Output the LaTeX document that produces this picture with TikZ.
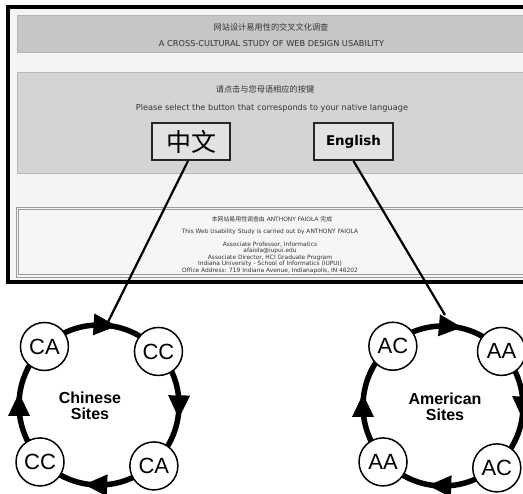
\documentclass[tikz,border=0pt]{standalone}
\usepackage{fontspec}
\setmainfont{DejaVu Sans}
\newfontfamily\cjk{Noto Sans CJK SC}
\newfontfamily\arialf{Liberation Sans}
\usetikzlibrary{calc}
\definecolor{framebg}{HTML}{F4F4F4}
\definecolor{hdrgray}{HTML}{C6C6C6}
\definecolor{hdrline}{HTML}{B4B4B4}
\definecolor{panelgray}{HTML}{D4D4D4}
\definecolor{panelline}{HTML}{B8B8B8}
\definecolor{btnfill}{HTML}{E2E2E2}
\definecolor{txtgray}{HTML}{333333}
\definecolor{footbg}{HTML}{F6F6F6}
\definecolor{footline}{HTML}{9A9A9A}
\tikzset{
  webtext/.style={text=txtgray, inner sep=0pt, font=\fontsize{8.2}{9}\selectfont},
  cjktext/.style={text=txtgray, inner sep=0pt, font=\cjk\fontsize{8.2}{9}\selectfont},
  foottext/.style={text=txtgray, inner sep=0pt, align=center, font=\fontsize{5.9}{5}\selectfont},
  btn/.style={draw=black!85, line width=2pt, fill=btnfill, minimum width=78pt, minimum height=37pt, inner sep=0pt},
  conn/.style={line width=2.2pt, black},
  ringline/.style={line width=5.5pt, black},
  site/.style={circle, draw=black, line width=1.5pt, fill=white, minimum size=48pt, inner sep=0pt, font=\arialf\fontsize{22}{22}\selectfont},
  ringlabel/.style={align=center, inner sep=0pt, font=\arialf\bfseries\fontsize{16}{16.5}\selectfont}
}
\newcommand{\ringtri}[1]{\fill[black, rotate=#1] (80,-12) -- (69,11) -- (91,11) -- cycle;}
\begin{document}
\begin{tikzpicture}[x=1pt,y=1pt]
\useasboundingbox (0,0) rectangle (523,494);
\clip (0,0) rectangle (523,494);
\fill[white] (0,0) rectangle (523,494);
% web page frame
\draw[line width=4pt, fill=framebg] (8,486.5) rectangle (540,212);
% header
\draw[fill=hdrgray, draw=hdrline, line width=0.8pt] (17,479) rectangle (540,442);
\node[cjktext] (title) at (271,467) {网站设计易用性的交叉文化调查};
\node[webtext] (titleen) at (271.5,450) {A CROSS-CULTURAL STUDY OF WEB DESIGN USABILITY};
% language panel
\draw[fill=panelgray, draw=panelline, line width=0.8pt] (17,422) rectangle (540,321);
\node[cjktext] (sel) at (265,405) {请点击与您母语相应的按键};
\node[webtext] (selen) at (272,386) {Please select the button that corresponds to your native language};
\node[btn] (zh) at (191,352.5) {\cjk\fontsize{25}{25}\selectfont 中文};
\node[btn, minimum width=79pt] (en) at (353.5,352.5) {\bfseries\fontsize{13.4}{14}\selectfont English};
% footer
\draw[fill=footbg, draw=footline, line width=0.8pt] (16,287) rectangle (540,217);
\draw[draw=footline, line width=0.6pt] (18.5,285) rectangle (540,219.5);
\node[foottext] (f1) at (272,275) {{\cjk 本网站易用性调查由} ANTHONY FAIOLA {\cjk 完成}};
\node[foottext] (f2) at (270,262) {This Web Usability Study is carried out by ANTHONY FAIOLA};
\node[foottext, anchor=north] (f3) at (270,252.5) {Associate Professor, Informatics\\afaiola@iupui.edu\\Associate Director, HCI Graduate Program\\Indiana University - School of Informatics (IUPUI)\\Office Address: 719 Indiana Avenue, Indianapolis, IN 46202};
% Chinese ring
\begin{scope}[shift={(99,89)}]
  \draw[ringline] (0,0) circle[radius=80];
  \ringtri{86}\ringtri{-1}\ringtri{268}\ringtri{180}
  \node[site] (c1) at (133:80) {CA};
  \node[site] (c2) at (42:80) {CC};
  \node[site] (c3) at (224:82) {CC};
  \node[site] (c4) at (-48:82) {CA};
  \node[ringlabel] (cs) at (-9,-1) {Chinese\\Sites};
  \coordinate (zhend) at (9,83);
\end{scope}
% American ring
\begin{scope}[shift={(443,88)}]
  \draw[ringline] (0,0) circle[radius=80];
  \ringtri{85}\ringtri{-1}\ringtri{268}\ringtri{180}
  \node[site] (a1) at (130:78) {AC};
  \node[site] (a2) at (43:80) {AA};
  \node[site] (a3) at (223:82) {AA};
  \node[site] (a4) at (-49:82) {AC};
  \node[ringlabel] (as) at (2,-1) {American\\Sites};
  \coordinate (enend) at (2,91);
\end{scope}
% connectors
\draw[conn] ([xshift=-3pt]zh.south) -- (zhend);
\draw[conn] (en.south) -- (enend);
\end{tikzpicture}
\end{document}
